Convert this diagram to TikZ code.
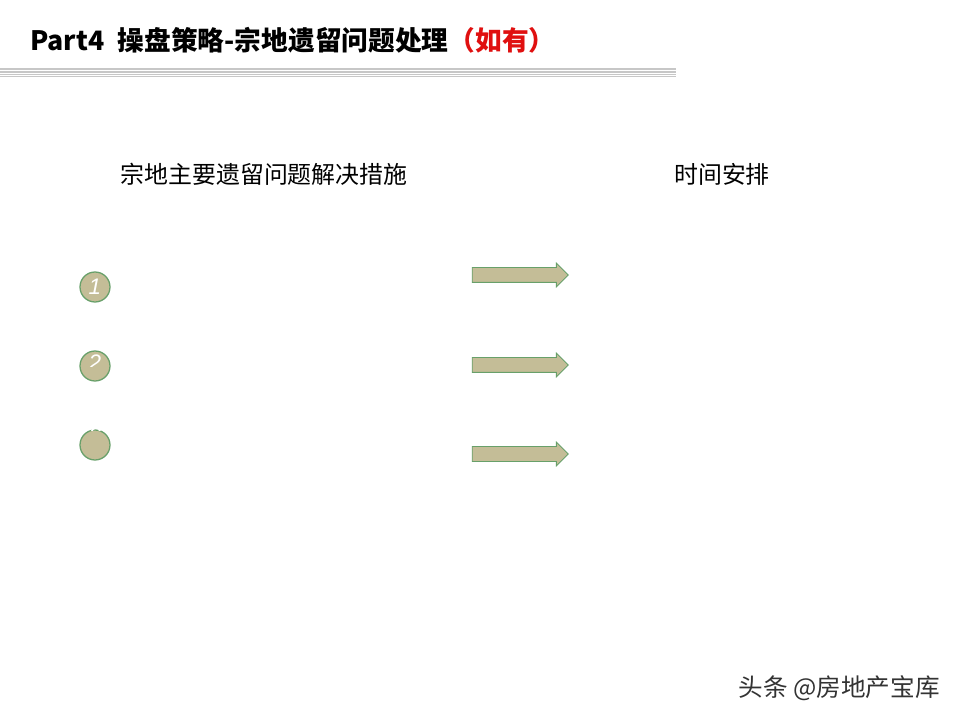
\documentclass[tikz,border=0pt]{standalone}
\usepackage{fontspec}
\setmainfont{Liberation Sans}
\newfontfamily\cjk{Noto Sans CJK SC}
\usetikzlibrary{shapes.arrows}

\definecolor{tanfill}{RGB}{196,189,151}
\definecolor{greenline}{RGB}{104,160,106}
\definecolor{titlered}{RGB}{224,16,16}

\tikzset{
  numdot/.style={circle, fill=tanfill, draw=greenline, line width=0.9pt, minimum size=0.75cm, inner sep=0pt},
  numtext/.style={text=white, font=\itshape\fontsize{16}{16}\selectfont, inner sep=0pt},
  stepto/.style={single arrow, single arrow head extend=0.11cm, single arrow head indent=0pt,
    minimum height=2.4cm, minimum width=0.57cm, inner sep=0pt, inner ysep=0.175cm,
    fill=tanfill, draw=greenline, line width=0.6pt},
  colhead/.style={font=\cjk\fontsize{17}{17}\selectfont}
}

\begin{document}
\begin{tikzpicture}[x=0.025cm, y=-0.025cm]
  \fill[white] (0,0) rectangle (960,720);
  \useasboundingbox (0,0) rectangle (960,720);

  % title and rule
  \node[anchor=west, inner sep=0pt, font=\cjk\bfseries\fontsize{19}{19}\selectfont] (title) at (30,40)
    {Part4\hspace{0.5em}操盘策略-宗地遗留问题处理\textcolor{titlered}{（如有）}};
  \fill[black!22] (0,68) rectangle (676,77.5);
  \draw[white, line width=0.5pt] (0,70.5) -- (676,70.5);
  \draw[white, line width=0.5pt] (0,73) -- (676,73);
  \draw[white, line width=0.5pt] (0,75.5) -- (676,75.5);

  \node[colhead] (measures) at (264,174) {宗地主要遗留问题解决措施};
  \node[colhead] (schedule) at (722,174) {时间安排};

  \node[numdot] (num1) at (95,287) {};
  \node[numdot] (num2) at (95,366) {};
  \node[numdot] (num3) at (95,445) {};

  \node[numtext] (lab1) at (num1) {1};
  \begin{scope}
    \clip (80,340) rectangle (110,367);
    \node[numtext] (lab2) at (95,363) {2};
  \end{scope}
  \begin{scope}
    \clip (80,410) rectangle (110,431);
    \node[numtext] (lab3) at (95,436) {3};
  \end{scope}

  \node[stepto] (arr1) at (516.5,275) {};
  \node[stepto] (arr2) at (516.5,365) {};
  \node[stepto] (arr3) at (516.5,454) {};

  \node[anchor=east, inner sep=0pt, text=black!80, font=\cjk\fontsize{17.5}{17.5}\selectfont] (mark) at (940,688)
    {头条 @房地产宝库};
\end{tikzpicture}
\end{document}
